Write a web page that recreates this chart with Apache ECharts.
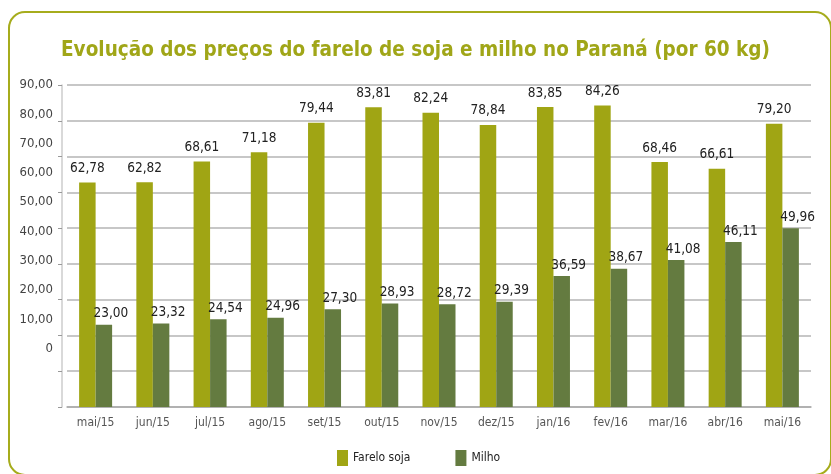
<!DOCTYPE html>
<html>
<head>
<meta charset="utf-8">
<script src="https://cdn.jsdelivr.net/npm/echarts@6/dist/echarts.min.js"></script>
<style>
html,body{margin:0;padding:0;background:#fff;}
#c{width:831px;height:474px;}
</style>
</head>
<body>
<div id="c"></div>
<script>
const categories = ['mai/15','jun/15','jul/15','ago/15','set/15','out/15','nov/15','dez/15','jan/16','fev/16','mar/16','abr/16','mai/16'];
const fareloSoja = [62.78, 62.82, 68.61, 71.18, 79.44, 83.81, 82.24, 78.84, 83.85, 84.26, 68.46, 66.61, 79.20];
const milho = [23.00, 23.32, 24.54, 24.96, 27.30, 28.93, 28.72, 29.39, 36.59, 38.67, 41.08, 46.11, 49.96];
const yTickLabels = ['90,00','80,00','70,00','60,00','50,00','40,00','30,00','20,00','10,00','0'];

const FONT = '"Liberation Sans Narrow", "DejaVu Sans Condensed", "Open Sans", sans-serif';
const fmt = v => v.toFixed(2).replace('.', ',');

const chart = echarts.init(document.getElementById('c'), null, {renderer: 'canvas'});
chart.setOption({
  animation: false,
  backgroundColor: '#fff',
  textStyle: {fontFamily: FONT},
  graphic: [{
    type: 'rect',
    shape: {x: 9, y: 12, width: 822, height: 463, r: 16},
    style: {fill: 'none', stroke: '#a6ac1c', lineWidth: 2},
    silent: true
  }],
  title: {
    text: 'Evolução dos preços do farelo de soja e milho no Paraná (por 60 kg)',
    left: 'center',
    top: 35,
    textStyle: {fontFamily: FONT, fontSize: 20.5, fontWeight: 'bold', color: '#a0a618'}
  },
  legend: {
    data: ['Farelo soja', 'Milho'],
    left: 332,
    top: 445,
    itemWidth: 11,
    itemHeight: 16,
    itemGap: 45,
    icon: 'rect',
    textStyle: {fontFamily: FONT, fontSize: 12, color: '#222'}
  },
  grid: {left: 67, right: 20, top: 85, bottom: 67, containLabel: false},
  xAxis: {
    type: 'category',
    data: categories,
    axisLine: {lineStyle: {color: '#aaa', width: 1.5}},
    axisTick: {show: false},
    axisLabel: {fontFamily: FONT, fontSize: 12, color: '#555', margin: 10}
  },
  yAxis: [{
    type: 'value',
    min: 0, max: 90, interval: 10,
    position: 'left',
    offset: 5,
    axisLine: {show: true, lineStyle: {color: '#ccc', width: 1.5}},
    axisTick: {show: true, length: 4, lineStyle: {color: '#999'}},
    axisLabel: {show: false},
    splitLine: {lineStyle: {color: '#b5b5b5', width: 1.5}}
  }, {
    type: 'value',
    min: -20, max: 90, interval: 10,
    position: 'left',
    offset: 5,
    axisLine: {show: false},
    axisTick: {show: false},
    splitLine: {show: false},
    axisLabel: {
      fontFamily: FONT, fontSize: 13, color: '#444', margin: 9,
      formatter: v => {
        if (v < 0) return '';
        const i = yTickLabels.length - 1 - Math.round(v / 10);
        return yTickLabels[i];
      }
    }
  }],
  series: [{
    name: 'Farelo soja',
    type: 'bar',
    data: fareloSoja,
    barWidth: 16.5,
    barGap: '0%',
    itemStyle: {color: '#a0a514'},
    label: {show: true, position: 'top', distance: 7, formatter: p => fmt(p.value),
      fontFamily: FONT, fontSize: 13.5, color: '#222'}
  }, {
    name: 'Milho',
    type: 'bar',
    data: milho,
    barWidth: 16.5,
    itemStyle: {color: '#647b40'},
    label: {show: true, position: 'top', distance: 4, offset: [7, 0], formatter: p => fmt(p.value),
      fontFamily: FONT, fontSize: 13.5, color: '#222'}
  }]
});
</script>
</body>
</html>
